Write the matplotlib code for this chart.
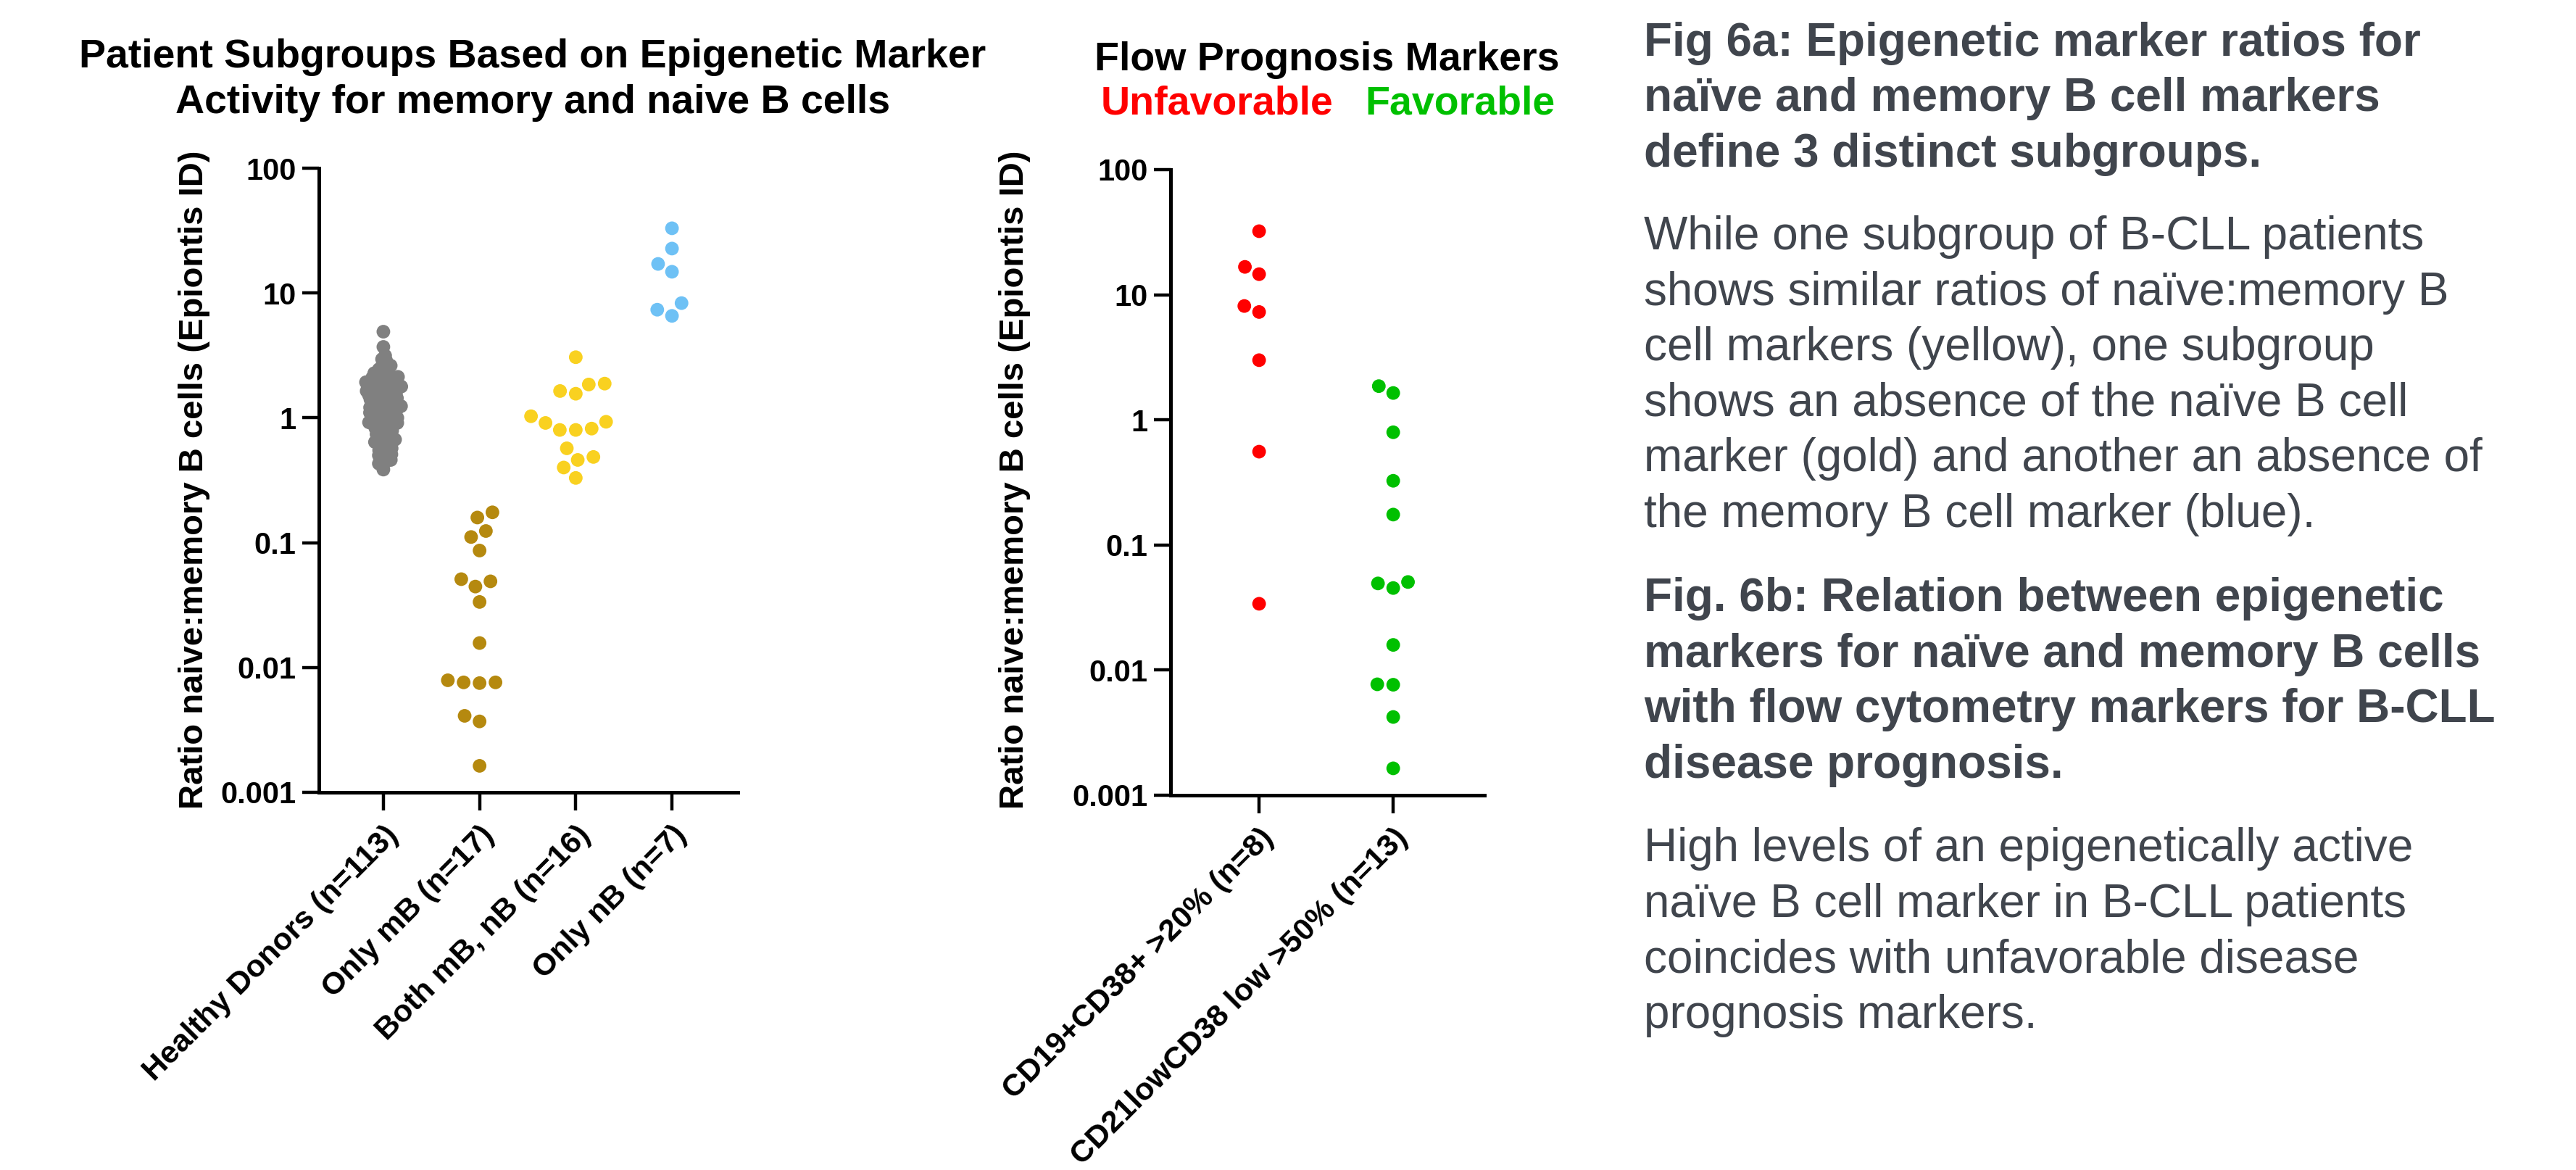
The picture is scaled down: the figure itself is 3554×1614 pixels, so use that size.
import numpy as np
import matplotlib
matplotlib.use("Agg")
import matplotlib.pyplot as plt
from matplotlib.ticker import NullLocator
from matplotlib.transforms import ScaledTranslation

# ---- data ----
subgroup_labels = ["Healthy Donors (n=113)", "Only mB (n=17)", "Both mB, nB (n=16)", "Only nB (n=7)"]

healthy_donors = [
    4.9, 3.7,
    3.15, 2.95, 2.85, 2.7, 2.62, 2.55, 2.45, 2.38,
    2.28, 2.24, 2.2, 2.17, 2.13, 2.1, 2.06, 2.03, 2.0, 1.98, 1.95, 1.93, 1.91, 1.89, 1.87, 1.85,
    1.82, 1.8, 1.78, 1.76, 1.74, 1.72, 1.7, 1.68, 1.66, 1.64, 1.62, 1.6, 1.58, 1.56, 1.54,
    1.52, 1.5, 1.48, 1.46, 1.44, 1.42, 1.4, 1.38, 1.36, 1.34, 1.32, 1.3, 1.28, 1.27, 1.25,
    1.24, 1.22, 1.21, 1.2, 1.18,
    1.17, 1.15, 1.14, 1.12, 1.1, 1.09, 1.07, 1.05, 1.04, 1.02, 1.0, 0.99, 0.97, 0.96, 0.95,
    0.93, 0.92, 0.91, 0.9, 0.89, 0.88, 0.87,
    0.85, 0.83, 0.81, 0.79, 0.78, 0.76, 0.74, 0.72, 0.71, 0.69, 0.67, 0.66, 0.64, 0.63, 0.62, 0.61,
    0.59, 0.57, 0.56, 0.55, 0.53, 0.51, 0.5, 0.49, 0.47,
    0.46, 0.45, 0.43, 0.42, 0.385,
]
only_mb = [0.175, 0.159, 0.124, 0.111, 0.0865, 0.051, 0.049, 0.0445, 0.0335, 0.0157,
           0.0076, 0.0075, 0.0076, 0.0079, 0.0041, 0.0037, 0.00163]
both_mb_nb = [3.06, 1.88, 1.85, 1.64, 1.56, 1.03, 0.91, 0.93, 0.80, 0.82, 0.80,
              0.57, 0.486, 0.46, 0.40, 0.33]
only_nb = [33.0, 22.7, 17.1, 14.8, 8.3, 7.35, 6.56]

flow_labels = ["CD19+CD38+ >20% (n=8)", "CD21lowCD38 low >50% (n=13)"]
unfavorable = [32.2, 14.6, 16.7, 8.13, 7.28, 3.0, 0.557, 0.0339]
favorable = [1.64, 1.86, 0.796, 0.326, 0.175, 0.0453, 0.0506, 0.0493, 0.0159,
             0.0077, 0.00764, 0.00422, 0.00164]

ytick_vals = [0.001, 0.01, 0.1, 1, 10, 100]
ytick_text = ["0.001", "0.01", "0.1", "1", "10", "100"]

head_a = ["Fig 6a: Epigenetic marker ratios for",
          "naïve and memory B cell markers",
          "define 3 distinct subgroups."]
body_a = ["While one subgroup of B-CLL patients",
          "shows similar ratios of naïve:memory B",
          "cell markers (yellow), one subgroup",
          "shows an absence of the naïve B cell",
          "marker (gold) and another an absence of",
          "the memory B cell marker (blue)."]
head_b = ["Fig. 6b: Relation between epigenetic",
          "markers for naïve and memory B cells",
          "with flow cytometry markers for B-CLL",
          "disease prognosis."]
body_b = ["High levels of an epigenetically active",
          "naïve B cell marker in B-CLL patients",
          "coincides with unfavorable disease",
          "prognosis markers."]

W, H, DPI = 3554, 1614, 200
plt.rcParams["font.family"] = ["Liberation Sans", "DejaVu Sans"]
TXT = "#40454d"


def px(x, y):
    return x / W, 1 - y / H


def swarm_offsets(ypix, d):
    # simple beeswarm in pixel space: closest non-overlapping offset to centre
    order = np.argsort(ypix)
    xs = np.zeros(len(ypix))
    placed = []
    for i in order:
        y = ypix[i]
        near = [(xs[j], ypix[j]) for j in placed if abs(ypix[j] - y) < d]
        cands = [0.0]
        for xj, yj in near:
            dx = np.sqrt(d * d - (y - yj) ** 2)
            cands += [xj - dx, xj + dx]
        cands.sort(key=abs)
        for c in cands:
            if all((c - xj) ** 2 + (y - yj) ** 2 >= d * d - 1e-6 for xj, yj in near):
                xs[i] = c
                break
        placed.append(i)
    return xs


def draw_group(ax, xpos, vals, color, d=22.0):
    vals = np.asarray(vals, dtype=float)
    pts = np.column_stack([np.full(len(vals), xpos), vals])
    ypix = ax.transData.transform(pts)[:, 1]
    off = swarm_offsets(ypix, d)
    x0, x1 = ax.get_xlim()
    unit = ax.bbox.width / (x1 - x0)
    ax.scatter(xpos + off / unit, vals, s=46, color=color, edgecolors="none",
               clip_on=False, zorder=3)


def style_axes(ax, xlim, labels):
    ax.set_yscale("log")
    ax.set_ylim(1e-3, 100)
    ax.set_xlim(*xlim)
    ax.set_yticks(ytick_vals)
    ax.set_yticklabels(ytick_text, fontsize=15, fontweight="bold")
    ax.yaxis.set_minor_locator(NullLocator())
    ax.set_xticks(range(len(labels)))
    ax.set_xticklabels(labels, rotation=45, ha="right", va="top",
                       rotation_mode="anchor", fontsize=15.5, fontweight="bold")
    off = ScaledTranslation(12 / DPI, 0, ax.figure.dpi_scale_trans)
    for lab in ax.get_xticklabels():
        lab.set_transform(lab.get_transform() + off)
    for s in ["top", "right"]:
        ax.spines[s].set_visible(False)
    for s in ["left", "bottom"]:
        ax.spines[s].set_linewidth(1.8)
    ax.tick_params(axis="y", direction="out", length=8.3, width=1.6, pad=3)
    ax.tick_params(axis="x", direction="out", length=9, width=1.6, pad=5)


fig = plt.figure(figsize=(W / DPI, H / DPI), dpi=DPI)

ax1 = fig.add_axes([440 / W, 1 - 1093 / H, (1018 - 440) / W, (1093 - 232) / H])
style_axes(ax1, (-0.67, 3.685), subgroup_labels)
draw_group(ax1, 0, healthy_donors, "#808080", d=6.5)
draw_group(ax1, 1, only_mb, "#b5890f")
draw_group(ax1, 2, both_mb_nb, "#f9d120")
draw_group(ax1, 3, only_nb, "#6ec1f5")

ax2 = fig.add_axes([1615 / W, 1 - 1097 / H, (2048 - 1615) / W, (1097 - 234) / H])
style_axes(ax2, (-0.66, 1.68), flow_labels)
draw_group(ax2, 0, unfavorable, "#ff0000")
draw_group(ax2, 1, favorable, "#00c000")

ylab = "Ratio naive:memory B cells (Epiontis ID)"
fig.text(*px(268, 662), ylab, rotation=90, ha="center", va="center",
         fontsize=17, fontweight="bold")
fig.text(*px(1400, 662), ylab, rotation=90, ha="center", va="center",
         fontsize=17, fontweight="bold")

# chart titles
fig.text(*px(735, 93), "Patient Subgroups Based on Epigenetic Marker", ha="center",
         va="baseline", fontsize=20, fontweight="bold")
fig.text(*px(735, 156), "Activity for memory and naive B cells", ha="center",
         va="baseline", fontsize=20, fontweight="bold")
fig.text(*px(1831, 97), "Flow Prognosis Markers", ha="center", va="baseline",
         fontsize=20, fontweight="bold")
fig.text(*px(1519, 158), "Unfavorable", ha="left", va="baseline",
         fontsize=20, fontweight="bold", color="#ff0000")
fig.text(*px(1883, 158), "Favorable", ha="left", va="baseline",
         fontsize=20, fontweight="bold", color="#00c000")

# right-hand caption block
def block(lines, y0, bold):
    for k, line in enumerate(lines):
        fig.text(*px(2268, y0 + k * 76.6), line, ha="left", va="baseline",
                 fontsize=23, color=TXT, fontweight="bold" if bold else "normal")

block(head_a, 76.5, True)
block(body_a, 344, False)
block(head_b, 843, True)
block(body_b, 1188, False)

fig.savefig("out.png", dpi=DPI, facecolor="white")
